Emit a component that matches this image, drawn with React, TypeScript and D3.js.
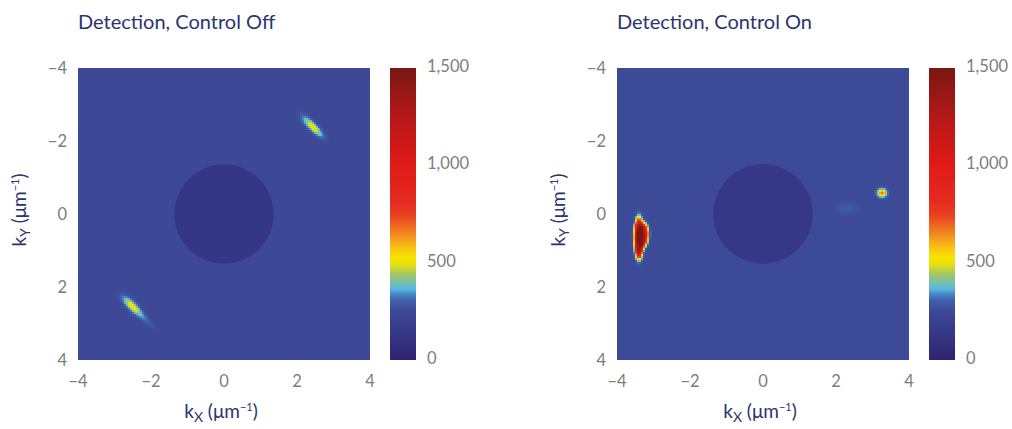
import React from 'react';
import * as d3 from 'd3';

// ---------- data ----------
const AXIS_TICKS = [-4, -2, 0, 2, 4];
const CBAR_TICKS = [0, 500, 1000, 1500];
const CMAP_VALUES = [0, 15, 154, 257, 308, 344, 365, 400, 437, 493, 524, 590, 658, 745, 822, 1000, 1233, 1500];
const CMAP_COLORS = ['#2d2470', '#2f2672', '#373a8a', '#3d4a98', '#3f62ad', '#4a8fcc', '#5ab8e0', '#78c0a8', '#a0c468', '#e8e010', '#f8e600', '#f8b818', '#f08020', '#e84020', '#e52a20', '#e01a18', '#b81818', '#781812'];
const PANEL_TITLES = ['Detection, Control Off', 'Detection, Control On'];
const BACKGROUND_LEVEL = [250, 254];
const DISK_RADIUS = [1.36, 1.36];
const DISK_LEVEL = [128, 130];
// spots (amount above background): [kx, ky, peak, sigmaAlong, sigmaAcross, angleDeg, power]
const SPOTS_OFF = [
  [2.46, -2.36, 250, 0.22, 0.065, 45, 1],
  [2.30, -2.52, 60, 0.22, 0.09, 45, 1],
  [-2.52, 2.52, 270, 0.22, 0.075, 45, 1],
  [-2.22, 2.82, 60, 0.3, 0.06, 45, 1],
];
const SPOTS_ON = [
  [-3.40, 0.64, 1050, 0.44, 0.11, 90, 2],
  [-3.28, 0.58, 800, 0.27, 0.12, 92, 2],
  [-3.40, 1.08, 280, 0.12, 0.06, 90, 1],
  [3.26, -0.58, 430, 0.085, 0.075, 0, 1],
  [2.3, -0.15, 40, 0.22, 0.12, 0, 1],
];
const PANEL_SPOTS = [SPOTS_OFF, SPOTS_ON];

// ---------- layout ----------
const PANELS = [
  { x0: 78, cb: 390 },
  { x0: 617, cb: 929 },
];
const SIZE = 292;
const Y0 = 68;
const CB_W = 26;
const N = 146;

const color = d3.scaleLinear<string>().domain(CMAP_VALUES).range(CMAP_COLORS).clamp(true);

function spotField(p: number, kx: number, ky: number) {
  let v = 0;
  for (const s of PANEL_SPOTS[p]) {
    const [cx, cy, peak, sa, sc, ang, pw] = s;
    const a = (ang * Math.PI) / 180;
    const dx = kx - cx, dy = ky - cy;
    const u = dx * Math.cos(a) + dy * Math.sin(a);
    const w = -dx * Math.sin(a) + dy * Math.cos(a);
    const r2 = (u * u) / (sa * sa) + (w * w) / (sc * sc);
    v += peak * Math.exp(-Math.pow(r2, pw) / 2);
  }
  return v;
}

const FONT = 'Lato, "Open Sans", sans-serif';
const NAVY = '#2b3471';
const GREY = '#7d7d7d';

function Panel({ p }: { p: number }) {
  const { x0, cb } = PANELS[p];
  const x = d3.scaleLinear().domain([-4, 4]).range([x0, x0 + SIZE]);
  const y = d3.scaleLinear().domain([-4, 4]).range([Y0, Y0 + SIZE]);
  const cbar = d3.scaleLinear().domain([0, 1500]).range([Y0 + SIZE, Y0]);
  const step = 8 / N;
  const cells: React.ReactNode[] = [];
  for (let i = 0; i < N; i++) {
    for (let j = 0; j < N; j++) {
      const kx = -4 + (i + 0.5) * step;
      const ky = -4 + (j + 0.5) * step;
      const extra = spotField(p, kx, ky);
      if (extra < 1.5) continue;
      const base = Math.hypot(kx, ky) <= DISK_RADIUS[p] ? DISK_LEVEL[p] : BACKGROUND_LEVEL[p];
      const px = x(-4 + i * step), py = y(-4 + j * step);
      cells.push(
        <rect key={i * N + j} x={px} y={py} width={x(step) - x(0) + 0.5} height={y(step) - y(0) + 0.5} fill={color(Math.min(1500, base + extra))} />
      );
    }
  }
  const gradId = `cbgrad${p}`;
  const cx = x0 + SIZE / 2;
  return (
    <g>
      <text x={x0} y={29} fontFamily={FONT} fontSize={20} fill={NAVY}>{PANEL_TITLES[p]}</text>
      <defs>
        <clipPath id={`clip${p}`}><rect x={x0} y={Y0} width={SIZE} height={SIZE} /></clipPath>
        <linearGradient id={gradId} x1="0" y1="1" x2="0" y2="0">
          {CMAP_VALUES.map((v, k) => (
            <stop key={k} offset={v / 1500} stopColor={CMAP_COLORS[k]} />
          ))}
        </linearGradient>
      </defs>
      <g clipPath={`url(#clip${p})`}>
        <rect x={x0} y={Y0} width={SIZE} height={SIZE} fill={color(BACKGROUND_LEVEL[p])} />
        <circle cx={x(0)} cy={y(0)} r={x(DISK_RADIUS[p]) - x(0)} fill={color(DISK_LEVEL[p])} />
        <g shapeRendering="crispEdges">{cells}</g>
      </g>
      {AXIS_TICKS.map((t) => (
        <text key={'x' + t} x={x(t)} y={387} textAnchor="middle" fontFamily={FONT} fontSize={16.5} fill={GREY}>{t < 0 ? '\u2212' + Math.abs(t) : t}</text>
      ))}
      {AXIS_TICKS.map((t) => (
        <text key={'y' + t} x={x0 - 11} y={y(t) + 6} textAnchor="end" fontFamily={FONT} fontSize={16.5} fill={GREY}>{t < 0 ? '\u2212' + Math.abs(t) : t}</text>
      ))}
      <text x={cx - 3} y={418} textAnchor="middle" fontFamily={FONT} fontSize={19} fill={NAVY}>
        k<tspan fontSize={14} dy={4}>X</tspan><tspan dy={-4}> (μm</tspan><tspan fontSize={11} dy={-7}>−1</tspan><tspan dy={7}>)</tspan>
      </text>
      <text transform={`translate(${x0 - 52},${Y0 + SIZE / 2 - 4}) rotate(-90)`} textAnchor="middle" fontFamily={FONT} fontSize={19} fill={NAVY}>
        k<tspan fontSize={14} dy={4}>Y</tspan><tspan dy={-4}> (μm</tspan><tspan fontSize={11} dy={-7}>−1</tspan><tspan dy={7}>)</tspan>
      </text>
      <rect x={cb} y={Y0} width={CB_W} height={SIZE} fill={`url(#${gradId})`} />
      {CBAR_TICKS.map((t) => (
        <text key={'c' + t} x={cb + CB_W + 11} y={cbar(t) + 4} textAnchor="start" fontFamily={FONT} fontSize={16.5} fill={GREY}>{d3.format(',')(t)}</text>
      ))}
    </g>
  );
}

export default function App() {
  return (
    <svg width={1012} height={429} style={{ display: 'block', position: 'absolute', left: 0, top: 0 }}>
      <rect width={1012} height={429} fill="#ffffff" />
      <Panel p={0} />
      <Panel p={1} />
    </svg>
  );
}
